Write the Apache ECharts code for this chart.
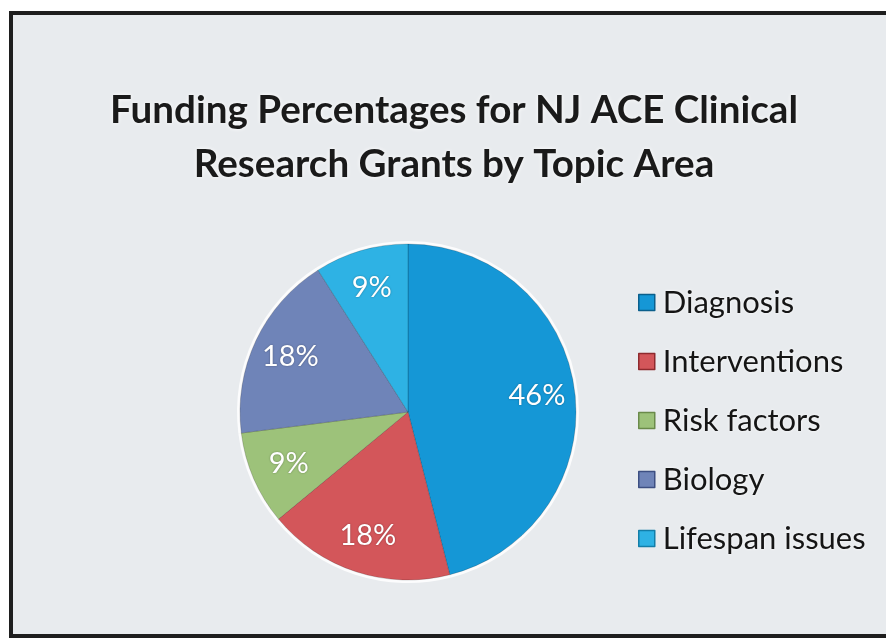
<!DOCTYPE html>
<html>
<head>
<meta charset="utf-8">
<title>NJ ACE funding</title>
<script src="https://cdn.jsdelivr.net/npm/echarts@6/dist/echarts.min.js"></script>
<style>
  html, body { margin: 0; padding: 0; background: #fff; }
  #main { width: 886px; height: 639px; }
</style>
</head>
<body>
<div id="main"></div>
<script>
// data
var topics = ['Diagnosis', 'Interventions', 'Risk factors', 'Biology', 'Lifespan issues'];
var shares = [46, 18, 9, 18, 9];

// slice colours (Excel-ish palette)
var colors = ['#1597d6', '#d3565a', '#9dc27a', '#6f84b8', '#2eb2e4'];
var edgeColors = ['#0b5f8c', '#8e2a2e', '#6a8a4a', '#3d4f82', '#137ea8'];

var pieData = topics.map(function (name, i) {
  return { name: name, value: shares[i], itemStyle: { color: colors[i] } };
});

var chart = echarts.init(document.getElementById('main'));

var option = {
  backgroundColor: '#ffffff',
  animation: false,
  graphic: [{
    type: 'rect',
    z: -10,
    silent: true,
    shape: { x: 11, y: 13, width: 890, height: 623 },
    style: { fill: '#e8ebee', stroke: '#1e1e1e', lineWidth: 4 }
  }],
  title: {
    text: 'Funding Percentages for NJ ACE Clinical\nResearch Grants by Topic Area',
    left: 454,
    textAlign: 'center',
    top: 84,
    padding: 0,
    textStyle: {
      fontFamily: 'Lato',
      fontWeight: 'bold',
      fontSize: 38.6,
      lineHeight: 54,
      color: '#1a1a1a',
      textShadowColor: '#ffffff',
      textShadowBlur: 4
    }
  },
  legend: {
    orient: 'vertical',
    left: 633,
    top: 282,
    icon: 'rect',
    itemWidth: 16,
    itemHeight: 16,
    itemGap: 28,
    data: topics.map(function (name, i) {
      return { name: name, itemStyle: { borderColor: edgeColors[i], borderWidth: 1.5 } };
    }),
    textStyle: {
      fontFamily: 'Lato',
      fontSize: 31,
      lineHeight: 30,
      color: '#151515',
      padding: [0, 0, 0, 3],
      textShadowColor: '#ffffff',
      textShadowBlur: 3
    }
  },
  series: [{
    // main pie
    type: 'pie',
    z: 3,
    center: [408, 412],
    radius: 168,
    startAngle: 90,
    clockwise: true,
    silent: true,
    label: { show: false },
    labelLine: { show: false },
    itemStyle: { borderColor: 'rgba(0,0,0,0.18)', borderWidth: 1 },
    data: pieData
  }, {
    // white rim behind the pie
    type: 'pie',
    z: 1,
    center: [408, 412],
    radius: 171,
    startAngle: 90,
    silent: true,
    label: { show: false },
    labelLine: { show: false },
    itemStyle: { color: '#ffffff', opacity: 0.85 },
    data: topics.map(function (name, i) { return { name: name, value: shares[i] }; })
  }, {
    // transparent ring carrying the percentage labels further out
    type: 'pie',
    z: 4,
    center: [408, 412],
    radius: 254,
    startAngle: 90,
    silent: true,
    itemStyle: { color: 'rgba(0,0,0,0)' },
    labelLine: { show: false },
    label: {
      show: true,
      position: 'inside',
      formatter: '{c}%',
      fontFamily: 'Lato',
      fontSize: 29,
      color: '#ffffff',
      textShadowColor: 'rgba(0,0,0,0.35)',
      textShadowBlur: 2
    },
    data: topics.map(function (name, i) { return { name: name, value: shares[i] }; })
  }]
};

chart.setOption(option);
</script>
</body>
</html>
